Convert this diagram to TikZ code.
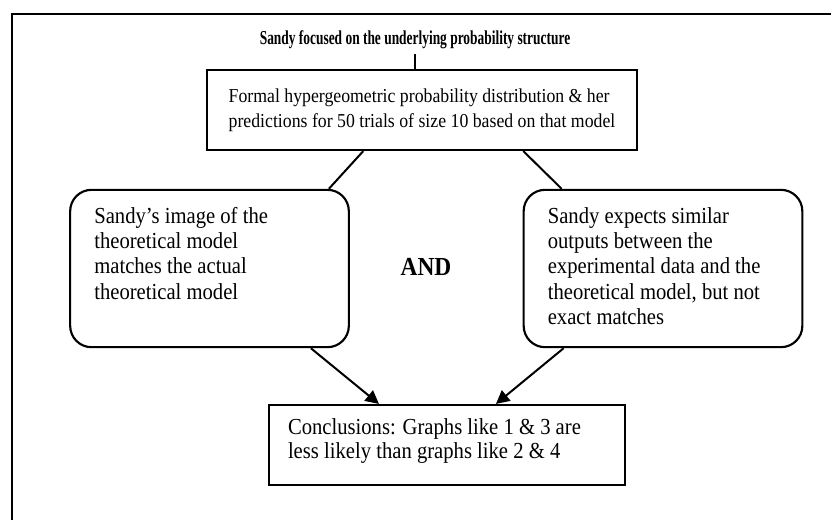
\documentclass[tikz,border=0pt]{standalone}
\usepackage{fontspec}
\setmainfont{Liberation Serif}
\usepackage{tikz}
\usetikzlibrary{calc,arrows.meta}
\tikzstyle{figure}=[
  x=0.75pt,y=-0.75pt,font=\fontsize{14.8}{18.75}\selectfont
]
\tikzstyle{frame}=[
  draw,line width=2.2pt
]
\tikzstyle{squarebox}=[
  draw,rectangle,line width=1.6pt,inner sep=0pt,align=left
]
\tikzstyle{roundbox}=[
  draw,rectangle,rounded corners=16pt,line width=1.6pt,inner sep=0pt
]
\tikzstyle{link}=[
  line width=1.5pt
]
\tikzstyle{flow}=[
  line width=1.5pt,-{Triangle[length=10pt,width=10pt]}
]
% narrow type, as in the scanned original
\newcommand{\narrow}[2][0.9]{\scalebox{#1}[1]{#2}}
\newcommand{\boxtext}[4]{\narrow{\fontsize{17.2}{#3}\selectfont\parbox[c][#1][t]{#2}{#4}}}

\begin{document}
\begin{tikzpicture}[figure]
        \useasboundingbox (0,0) rectangle (831,519);
        \clip (0,0) rectangle (831,519);
        \draw [frame] (12,14) rectangle (850,540);

        \node (title) at (415,40) {\narrow[0.68]{\bfseries Sandy focused on the underlying probability structure}};
        \node (top) at (422,110) [squarebox,minimum width=322pt,minimum height=60pt]
          {\narrow{\begin{tabular}{@{}l@{}}Formal hypergeometric probability distribution \& her\\predictions for 50 trials of size 10 based on that model\end{tabular}}};
        \node (lbox) at (209.5,268.5) [roundbox,minimum width=209pt,minimum height=118pt]
          {\boxtext{92pt}{192pt}{19pt}{Sandy's image of the\\theoretical model\\matches the actual\\theoretical model}};
        \node (rbox) at (663,268.5) [roundbox,minimum width=209pt,minimum height=118pt]
          {\boxtext{92pt}{192pt}{19pt}{Sandy expects similar\\outputs between the\\experimental data and the\\theoretical model, but not\\exact matches}};
        \node (and) at (426,267) {\narrow{\fontsize{19.5}{20}\selectfont\bfseries AND}};
        \node (concl) at (447,445) [squarebox,minimum width=267pt,minimum height=60pt]
          {\boxtext{39pt}{265pt}{18pt}{Conclusions: Graphs like 1 \& 3 are\\less likely than graphs like 2 \& 4}};

        \draw [link] (title.south) -- (title.south |- top.north);
        \draw [link] ($(top.south west)+(157,0)$) -- ($(lbox.north east)+(-21,0)$);
        \draw [link] ($(top.south west)+(317,0)$) -- ($(rbox.north west)+(39,0)$);
        \draw [flow] ($(lbox.south east)+(-39,0)$) -- ($(concl.north west)+(111,0)$);
        \draw [flow] ($(rbox.south west)+(41,0)$) -- ($(concl.north west)+(228,0)$);
\end{tikzpicture}
\end{document}
